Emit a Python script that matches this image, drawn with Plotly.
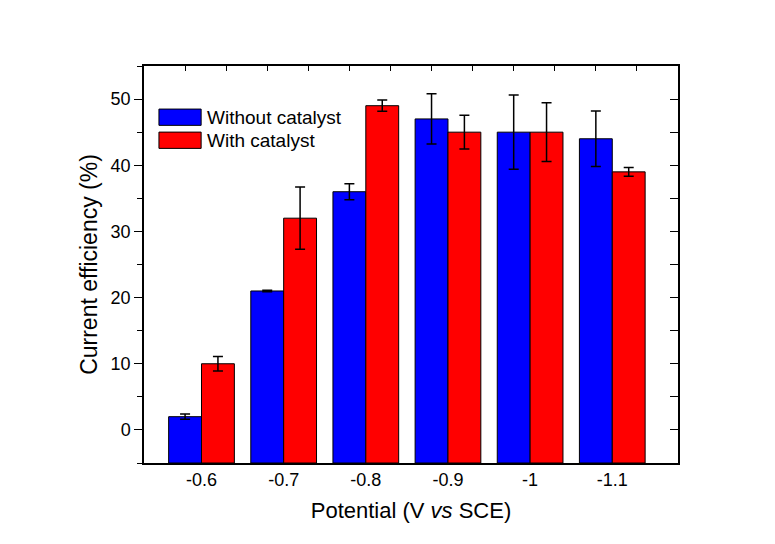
import plotly.graph_objects as go

categories = ["-0.6", "-0.7", "-0.8", "-0.9", "-1", "-1.1"]
without_catalyst = [2, 21, 36, 47, 45, 44]
without_err = [0.4, 0.1, 1.2, 3.8, 5.6, 4.2]
with_catalyst = [10, 32, 49, 45, 45, 39]
with_err = [1.1, 4.7, 0.85, 2.55, 4.45, 0.65]

y_min, y_max = -5, 55
FONT = "Liberation Sans, Arial, sans-serif"

fig = go.Figure()
for name, vals, errs, color in [
    ("Without catalyst", without_catalyst, without_err, "#0000FF"),
    ("With catalyst", with_catalyst, with_err, "#FF0000"),
]:
    fig.add_trace(go.Bar(
        x=categories,
        y=[v - y_min for v in vals],
        base=y_min,
        name=name,
        marker=dict(color=color, line=dict(color="black", width=1)),
        error_y=dict(type="data", array=errs, color="black", thickness=1.5, width=5),
        showlegend=False,
    ))

# helper trace so the mirrored top/right axes are drawn
fig.add_trace(go.Scatter(x=[None], y=[None], xaxis="x2", yaxis="y2",
                         showlegend=False, hoverinfo="skip"))

fig.update_layout(
    width=767, height=536,
    paper_bgcolor="white", plot_bgcolor="white",
    margin=dict(l=136, r=97, t=58, b=81),
    barmode="group", bargap=0.2, bargroupgap=0,
    font=dict(family=FONT, color="black", size=18),
    xaxis=dict(
        type="category", range=[-0.70, 5.80],
        showline=True, linecolor="black", linewidth=1.5,
        ticks="", showgrid=False, zeroline=False,
        tickfont=dict(size=18),
        title=dict(text="Potential (V <i>vs</i> SCE)", font=dict(size=22), standoff=13),
    ),
    xaxis2=dict(
        type="linear", overlaying="x", side="top", range=[-0.70, 5.80],
        showline=True, linecolor="black", linewidth=1.5,
        tickmode="array", tickvals=[-0.2 + 0.5 * k for k in range(12)],
        ticks="inside", ticklen=5, tickwidth=1.3, tickcolor="black",
        showticklabels=False, showgrid=False, zeroline=False,
    ),
    yaxis=dict(
        range=[y_min, y_max], tickmode="linear", tick0=0, dtick=10,
        showline=True, linecolor="black", linewidth=1.5,
        ticks="outside", ticklen=8, tickwidth=1.3, tickcolor="black",
        minor=dict(ticks="outside", ticklen=5, tickwidth=1.3, tickcolor="black",
                   tick0=5, dtick=10),
        showgrid=False, zeroline=False,
        tickfont=dict(size=18),
        title=dict(text="Current efficiency (%)", font=dict(size=23), standoff=7),
    ),
    yaxis2=dict(
        overlaying="y", side="right", range=[y_min, y_max],
        tickmode="linear", tick0=0, dtick=5,
        showline=True, linecolor="black", linewidth=1.5,
        ticks="inside", ticklen=8, tickwidth=1.3, tickcolor="black",
        showticklabels=False, showgrid=False, zeroline=False,
    ),
)

# legend drawn as boxes + text
legend_items = [("Without catalyst", "#0000FF", 0.871), ("With catalyst", "#FF0000", 0.813)]
for label, color, yc in legend_items:
    fig.add_shape(type="rect", xref="paper", yref="paper",
                  x0=0.028, x1=0.107, y0=yc - 0.0205, y1=yc + 0.0205,
                  fillcolor=color, line=dict(color="black", width=1))
    fig.add_annotation(xref="paper", yref="paper", x=0.114, y=yc,
                       text=label, showarrow=False, xanchor="left", yanchor="middle",
                       font=dict(size=19, family=FONT, color="black"))

fig.write_html("out.html")
